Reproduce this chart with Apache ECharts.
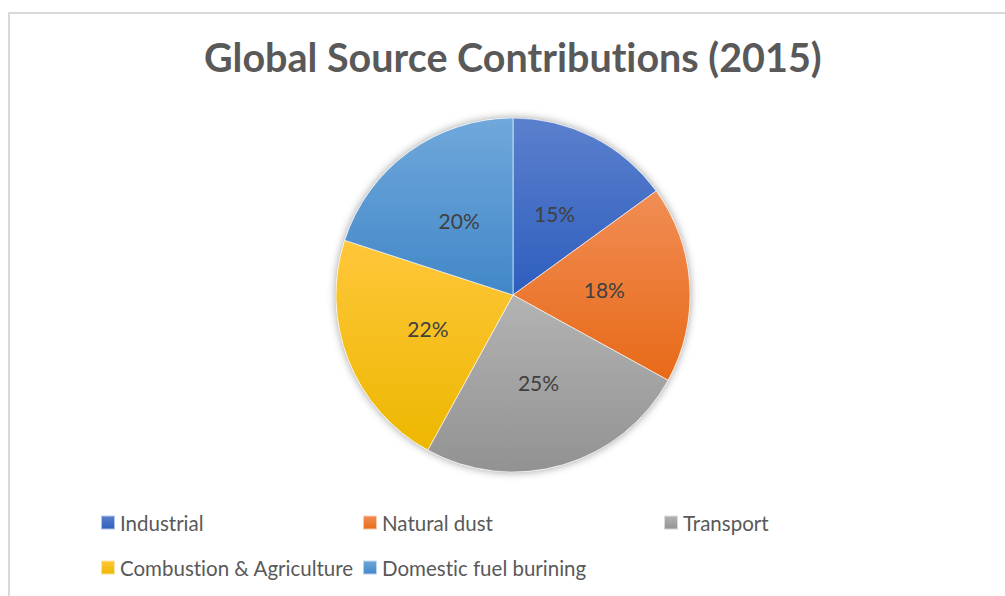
<!DOCTYPE html>
<html>
<head>
<meta charset="utf-8">
<title>Global Source Contributions (2015)</title>
<script src="https://cdn.jsdelivr.net/npm/echarts@6/dist/echarts.min.js"></script>
<style>
  html, body { margin: 0; padding: 0; background: #ffffff; }
  #chart { width: 1005px; height: 596px; }
  #chart text { font-variant-ligatures: none; font-feature-settings: "liga" 0, "clig" 0; }
</style>
</head>
<body>
<div id="chart"></div>
<script>
// Source categories and their share of the total (percent)
const categories = ['Industrial', 'Natural dust', 'Transport', 'Combustion & Agriculture', 'Domestic fuel burining'];
const shares = [15, 18, 25, 22, 20];

// Slice fills: light top → dark bottom
const gradientStops = [
  ['#5B80CD', '#2E5EBE'],
  ['#F18D55', '#E86A18'],
  ['#B3B3B3', '#929292'],
  ['#FFC73A', '#EDB700'],
  ['#70A8DB', '#4187C8']
];

const FONT = 'Lato, "Open Sans", sans-serif';
const TEXT = '#595959';

function grad(stops) {
  return new echarts.graphic.LinearGradient(0, 0, 0, 1, [
    { offset: 0, color: stops[0] },
    { offset: 1, color: stops[1] }
  ]);
}

const pieData = categories.map((name, i) => ({
  name: name,
  value: shares[i],
  itemStyle: { color: grad(gradientStops[i]) }
}));

// Legend placement: three columns on the first row, two on the second
const legendSlots = [
  { left: 100, top: 512 },
  { left: 362, top: 512 },
  { left: 663, top: 512 },
  { left: 100, top: 557 },
  { left: 362, top: 557 }
];

const legends = categories.map((name, i) => ({
  data: [{ name: name, icon: 'rect', itemStyle: { color: grad(gradientStops[i]) } }],
  left: legendSlots[i].left,
  top: legendSlots[i].top,
  padding: 0,
  orient: 'horizontal',
  itemWidth: 14,
  itemHeight: 14,
  itemGap: 0,
  selectedMode: false,
  textStyle: { fontFamily: FONT, fontSize: 20.5, color: TEXT }
}));

const chart = echarts.init(document.getElementById('chart'), null, { renderer: 'svg' });

chart.setOption({
  backgroundColor: '#ffffff',
  animation: false,
  title: {
    text: 'Global Source Contributions (2015)',
    left: 204,
    top: 36,
    padding: 0,
    textStyle: { fontFamily: FONT, fontSize: 39.5, fontWeight: 'bold', color: TEXT }
  },
  legend: legends,
  graphic: [{
    type: 'rect',
    shape: { x: 9, y: 13, width: 1010, height: 600 },
    style: { fill: 'none', stroke: '#d9d9d9', lineWidth: 2 },
    silent: true
  }],
  series: [
    {
      // soft drop shadow under the whole disc
      type: 'pie',
      center: [513, 295],
      radius: 177,
      silent: true,
      z: 1,
      label: { show: false },
      labelLine: { show: false },
      itemStyle: {
        color: '#ffffff',
        shadowBlur: 8,
        shadowColor: 'rgba(0,0,0,0.4)'
      },
      data: [{ value: 1, name: '' }]
    },
    {
      type: 'pie',
      center: [513, 295],
      radius: 177,
      startAngle: 90,
      clockwise: true,
      z: 2,
      avoidLabelOverlap: false,
      itemStyle: { borderColor: 'rgba(255,255,255,0.6)', borderWidth: 1 },
      label: {
        show: true,
        position: 'inner',
        formatter: '{c}%',
        fontFamily: FONT,
        fontSize: 21,
        color: '#404040'
      },
      labelLine: { show: false },
      emphasis: { disabled: true },
      data: pieData
    }
  ]
});
</script>
</body>
</html>
